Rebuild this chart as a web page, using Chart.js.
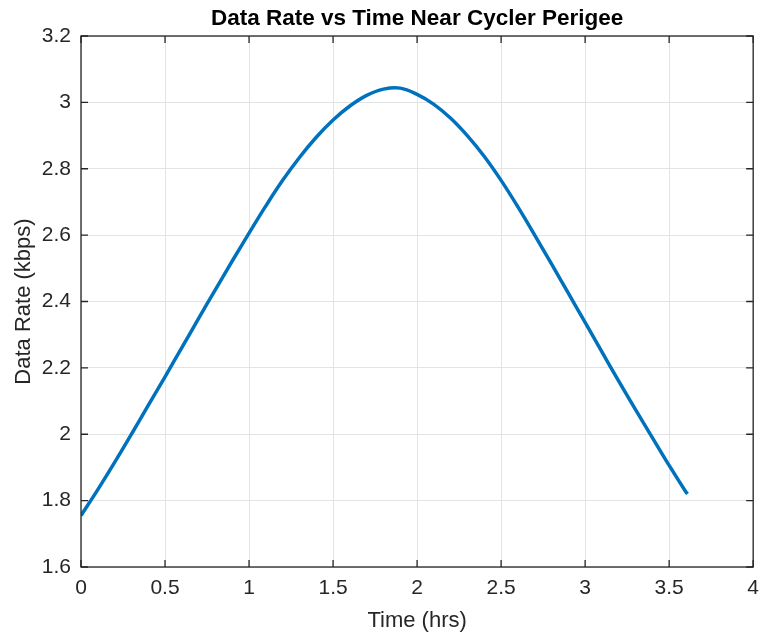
<!DOCTYPE html>
<html>
<head>
<meta charset="utf-8">
<script src="https://cdn.jsdelivr.net/npm/chart.js@4.4.1/dist/chart.umd.min.js"></script>
<style>
html, body { margin: 0; padding: 0; background: #fff; }
</style>
</head>
<body>
<canvas id="grafico" width="768" height="636"></canvas>
<script>
// tempo (horas) e taxa de dados (kbps)
const tempo = [0, 0.1, 0.2, 0.3, 0.4, 0.5, 0.6, 0.7, 0.8, 0.9, 1.0, 1.1, 1.2, 1.3, 1.4, 1.5, 1.6, 1.7, 1.8, 1.9,
               2.0, 2.1, 2.2, 2.3, 2.4, 2.5, 2.6, 2.7, 2.8, 2.9, 3.0, 3.1, 3.2, 3.3, 3.4, 3.5, 3.6, 3.61];
const taxa = [1.755, 1.833, 1.915, 2.000, 2.087, 2.173, 2.261, 2.349, 2.436, 2.522, 2.606, 2.688, 2.765, 2.834, 2.895,
              2.947, 2.989, 3.021, 3.040, 3.043, 3.024, 2.994, 2.952, 2.899, 2.837, 2.765, 2.685, 2.600, 2.513, 2.425,
              2.337, 2.248, 2.160, 2.074, 1.990, 1.906, 1.826, 1.820];

const ticksX = [0, 0.5, 1, 1.5, 2, 2.5, 3, 3.5, 4];
const ticksY = [1.6, 1.8, 2, 2.2, 2.4, 2.6, 2.8, 3, 3.2];

const fonte = "'Liberation Sans', Arial, Helvetica, sans-serif";
const corEixo = '#262626';

const pontos = tempo.map((t, i) => ({ x: t, y: taxa[i] }));

// caixa do eixo e marcas internas (estilo MATLAB)
const moldura = {
    id: 'moldura',
    afterDraw(chart) {
        const ctx = chart.ctx;
        const a = chart.chartArea;
        const x = chart.scales.x;
        const y = chart.scales.y;
        ctx.save();
        ctx.strokeStyle = corEixo;
        ctx.lineWidth = 1.3;
        ctx.strokeRect(a.left, a.top, a.right - a.left, a.bottom - a.top);
        ctx.beginPath();
        ticksX.forEach(v => {
            const px = x.getPixelForValue(v);
            ctx.moveTo(px, a.bottom); ctx.lineTo(px, a.bottom - 7);
            ctx.moveTo(px, a.top); ctx.lineTo(px, a.top + 7);
        });
        ticksY.forEach(v => {
            const py = y.getPixelForValue(v);
            ctx.moveTo(a.left, py); ctx.lineTo(a.left + 7, py);
            ctx.moveTo(a.right, py); ctx.lineTo(a.right - 7, py);
        });
        ctx.stroke();
        ctx.restore();
    }
};

const ctx = document.getElementById('grafico').getContext('2d');

new Chart(ctx, {
    type: 'line',
    data: {
        datasets: [{
            label: 'Data Rate',
            data: pontos,
            borderColor: '#0072BD',
            borderWidth: 3.5,
            pointRadius: 0,
            tension: 0.4,
            fill: false
        }]
    },
    options: {
        responsive: false,
        animation: false,
        devicePixelRatio: 1,
        layout: { padding: { top: 0, right: 10, bottom: 0, left: 0 } },
        plugins: {
            legend: { display: false },
            tooltip: { enabled: false },
            title: {
                display: true,
                fullSize: false,
                text: 'Data Rate vs Time Near Cycler Perigee',
                color: '#000',
                font: { family: fonte, size: 22.5, weight: 'bold' },
                padding: { top: 5, bottom: 4 }
            }
        },
        scales: {
            x: {
                type: 'linear',
                min: 0,
                max: 4,
                afterBuildTicks: s => { s.ticks = ticksX.map(v => ({ value: v })); },
                afterFit: s => { s.height = 69; },
                grid: { color: '#e3e3e3', lineWidth: 1, drawTicks: false },
                border: { display: false },
                ticks: {
                    color: corEixo,
                    font: { family: fonte, size: 21 },
                    padding: 9,
                    maxRotation: 0,
                    callback: v => String(Math.round(v * 10) / 10)
                },
                title: {
                    display: true,
                    text: 'Time (hrs)',
                    color: corEixo,
                    font: { family: fonte, size: 22 },
                    padding: { top: 0, bottom: 2 }
                }
            },
            y: {
                type: 'linear',
                min: 1.6,
                max: 3.2,
                afterBuildTicks: s => { s.ticks = ticksY.map(v => ({ value: v })); },
                afterFit: s => { s.width = 81; },
                grid: { color: '#e3e3e3', lineWidth: 1, drawTicks: false },
                border: { display: false },
                ticks: {
                    color: corEixo,
                    font: { family: fonte, size: 21 },
                    padding: 10,
                    callback: v => String(Math.round(v * 10) / 10)
                },
                title: {
                    display: true,
                    text: 'Data Rate (kbps)',
                    color: corEixo,
                    font: { family: fonte, size: 22 },
                    padding: { top: 11, bottom: 0 }
                }
            }
        }
    },
    plugins: [moldura]
});
</script>
</body>
</html>
